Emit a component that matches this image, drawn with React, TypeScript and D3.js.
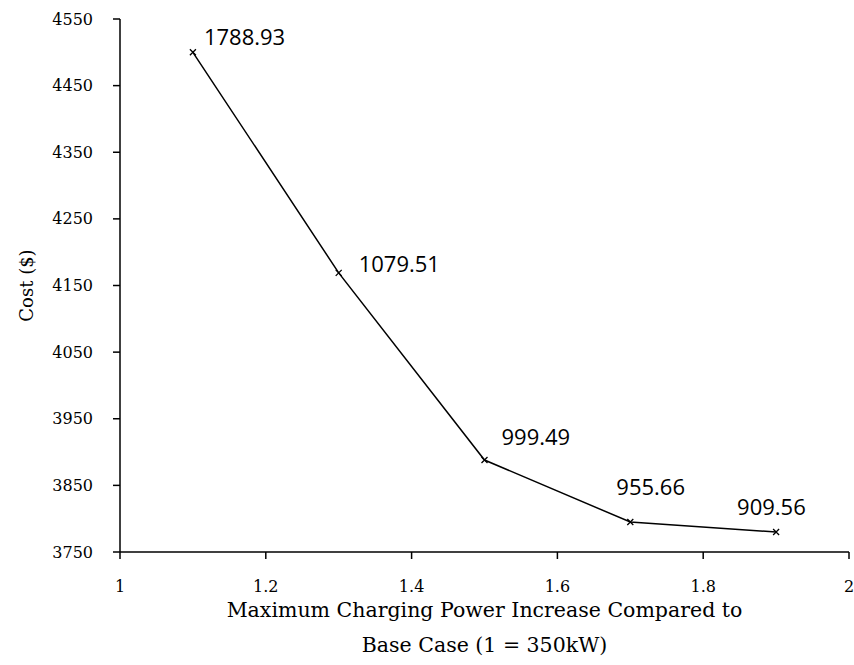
import React from "react";
import * as d3 from "d3";

// charging power multiplier vs cost
const powerRatio = [1.1, 1.3, 1.5, 1.7, 1.9];
const cost = [4500, 4169, 3888, 3795, 3780];
const pointLabels = ["1788.93", "1079.51", "999.49", "955.66", "909.56"];
// label offsets from the marker (dx, dy)
const labelOffsets = [
  [11, -7],
  [20, -1],
  [17, -15],
  [-14, -27],
  [-39, -17],
];
const xTicks = [1, 1.2, 1.4, 1.6, 1.8, 2];
const yTicks = [3750, 3850, 3950, 4050, 4150, 4250, 4350, 4450, 4550];

const W = 854;
const H = 665;
const margin = { top: 19, right: 5, bottom: 113, left: 120 };
const serif = "'DejaVu Serif', serif";

export default function App() {
  const x = d3
    .scaleLinear()
    .domain([1, 2])
    .range([margin.left, W - margin.right]);
  const y = d3
    .scaleLinear()
    .domain([3750, 4550])
    .range([H - margin.bottom, margin.top]);

  const line = d3
    .line<number>()
    .x((_, i) => x(powerRatio[i]))
    .y((d) => y(d));

  const x0 = x(1);
  const y0 = y(3750);

  return (
    <div style={{ position: "absolute", left: 0, top: 0 }}>
      <svg width={W} height={H} style={{ display: "block", background: "#fff" }}>
        {/* y axis */}
        <line x1={x0} x2={x0} y1={y(4550)} y2={y0} stroke="#000" strokeWidth={1.5} />
        {yTicks.map((t) => (
          <g key={t}>
            <line x1={x0 - 7} x2={x0} y1={y(t)} y2={y(t)} stroke="#000" strokeWidth={1.5} />
            <text
              x={x0 - 27}
              y={y(t)}
              dy="0.35em"
              textAnchor="end"
              fontFamily={serif}
              fontSize={16}
              fill="#000"
            >
              {t}
            </text>
          </g>
        ))}
        {/* x axis */}
        <line x1={x0} x2={x(2)} y1={y0} y2={y0} stroke="#000" strokeWidth={1.5} />
        {xTicks.map((t) => (
          <g key={t}>
            <line x1={x(t)} x2={x(t)} y1={y0} y2={y0 + 7} stroke="#000" strokeWidth={1.5} />
            <text
              x={x(t)}
              y={y0 + 40}
              textAnchor="middle"
              fontFamily={serif}
              fontSize={16}
              fill="#000"
            >
              {t}
            </text>
          </g>
        ))}
        <text
          x={(x0 + x(2)) / 2}
          y={617}
          textAnchor="middle"
          fontFamily={serif}
          fontSize={20.5}
          fill="#000"
        >
          Maximum Charging Power Increase Compared to
        </text>
        <text
          x={(x0 + x(2)) / 2}
          y={652}
          textAnchor="middle"
          fontFamily={serif}
          fontSize={20.5}
          fill="#000"
        >
          Base Case (1 = 350kW)
        </text>
        <text
          transform={`translate(33,${(y(4550) + y0) / 2}) rotate(-90)`}
          textAnchor="middle"
          fontFamily={serif}
          fontSize={18}
          fill="#000"
        >
          Cost ($)
        </text>

        {/* series */}
        <path d={line(cost) || ""} fill="none" stroke="#000" strokeWidth={1.5} />
        {cost.map((c, i) => {
          const px = x(powerRatio[i]);
          const py = y(c);
          return (
            <g key={i}>
              <path
                d={`M${px - 3},${py - 3}L${px + 3},${py + 3}M${px - 3},${py + 3}L${px + 3},${py - 3}`}
                stroke="#000"
                strokeWidth={1.3}
              />
              <text
                x={px + labelOffsets[i][0]}
                y={py + labelOffsets[i][1]}
                fontFamily="'Open Sans', 'Noto Sans', sans-serif"
                fontSize={22}
                fill="#000"
              >
                {pointLabels[i]}
              </text>
            </g>
          );
        })}
      </svg>
    </div>
  );
}
